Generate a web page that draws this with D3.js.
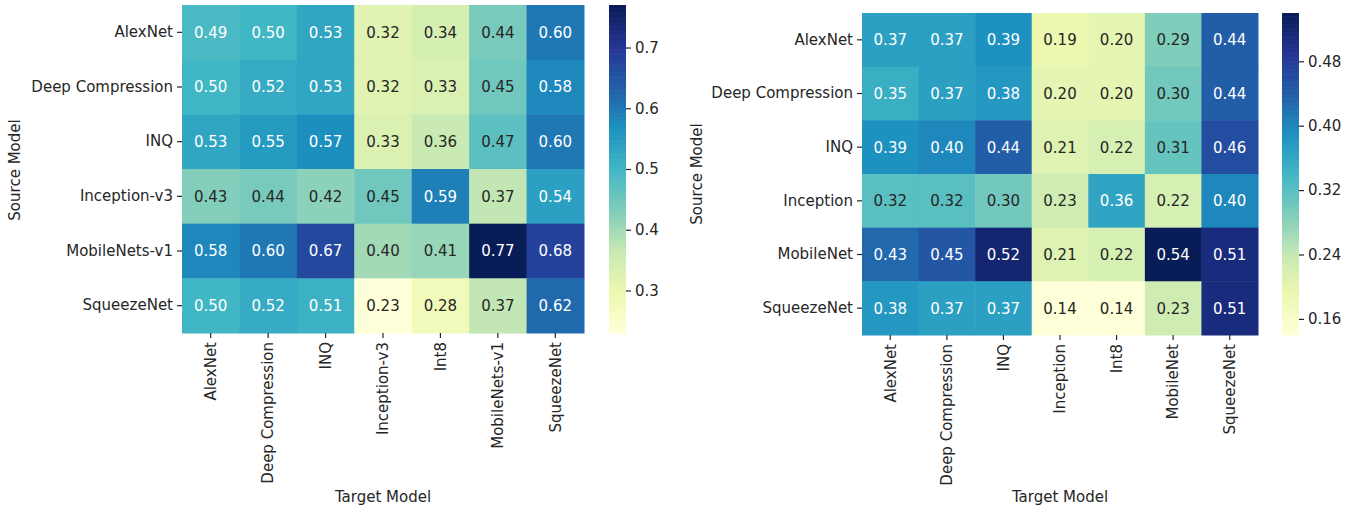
<!DOCTYPE html>
<html>
<head>
<meta charset="utf-8">
<script src="https://cdn.jsdelivr.net/npm/d3@7"></script>
<style>
  html, body { margin: 0; padding: 0; background: #fff; }
  svg { display: block; }
  text { font-family: "DejaVu Sans", sans-serif; }
</style>
</head>
<body>
<svg id="chart" width="1356" height="508"></svg>
<script>
// ---------- data ----------
const leftRows = ["AlexNet", "Deep Compression", "INQ", "Inception-v3", "MobileNets-v1", "SqueezeNet"];
const leftCols = ["AlexNet", "Deep Compression", "INQ", "Inception-v3", "Int8", "MobileNets-v1", "SqueezeNet"];
const leftValues = [
  [0.49, 0.50, 0.53, 0.32, 0.34, 0.44, 0.60],
  [0.50, 0.52, 0.53, 0.32, 0.33, 0.45, 0.58],
  [0.53, 0.55, 0.57, 0.33, 0.36, 0.47, 0.60],
  [0.43, 0.44, 0.42, 0.45, 0.59, 0.37, 0.54],
  [0.58, 0.60, 0.67, 0.40, 0.41, 0.77, 0.68],
  [0.50, 0.52, 0.51, 0.23, 0.28, 0.37, 0.62]
];
const leftTicks = [0.3, 0.4, 0.5, 0.6, 0.7];
const leftTickLabels = ["0.3", "0.4", "0.5", "0.6", "0.7"];

const rightRows = ["AlexNet", "Deep Compression", "INQ", "Inception", "MobileNet", "SqueezeNet"];
const rightCols = ["AlexNet", "Deep Compression", "INQ", "Inception", "Int8", "MobileNet", "SqueezeNet"];
const rightValues = [
  [0.37, 0.37, 0.39, 0.19, 0.20, 0.29, 0.44],
  [0.35, 0.37, 0.38, 0.20, 0.20, 0.30, 0.44],
  [0.39, 0.40, 0.44, 0.21, 0.22, 0.31, 0.46],
  [0.32, 0.32, 0.30, 0.23, 0.364, 0.22, 0.40],
  [0.43, 0.45, 0.52, 0.21, 0.22, 0.54, 0.51],
  [0.38, 0.37, 0.37, 0.14, 0.14, 0.23, 0.51]
];
const rightTicks = [0.16, 0.24, 0.32, 0.40, 0.48];
const rightTickLabels = ["0.16", "0.24", "0.32", "0.40", "0.48"];

const xTitle = "Target Model";
const yTitle = "Source Model";

// YlGnBu (matplotlib / ColorBrewer 9-class anchors)
const ylgnbu = ["#ffffd9", "#edf8b1", "#c7e9b4", "#7fcdbb", "#41b6c4", "#1d91c0", "#225ea8", "#253494", "#081d58"];

// ---------- drawing ----------
const svg = d3.select("#chart");
const textDark = "#262626";
const fs = 15;

function luminance(c) {
  const rgb = d3.rgb(c);
  const f = v => { v /= 255; return v <= 0.03928 ? v / 12.92 : Math.pow((v + 0.055) / 1.055, 2.4); };
  return 0.2126 * f(rgb.r) + 0.7152 * f(rgb.g) + 0.0722 * f(rgb.b);
}

function drawHeatmap(cfg) {
  const { rows, cols, values, ticks, tickLabels, box, cbar, yTitleX, xTitleY, yTitleY } = cfg;
  const flat = values.flat();
  const ext = d3.extent(flat);
  const t = d3.scaleLinear().domain(ext).range([0, 1]);
  const cs = d3.scaleLinear()
    .domain(ylgnbu.map((_, i) => i / (ylgnbu.length - 1)))
    .range(ylgnbu)
    .interpolate(d3.interpolateRgb);
  const color = v => cs(Math.max(0, Math.min(1, t(v))));

  const x = d3.scaleBand().domain(cols).range([box.x0, box.x1]).padding(0);
  const y = d3.scaleBand().domain(rows).range([box.y0, box.y1]).padding(0);

  const g = svg.append("g");
  const cells = [];
  values.forEach((row, i) => row.forEach((v, j) => cells.push({ r: rows[i], c: cols[j], v })));

  g.selectAll("rect.cell").data(cells).join("rect")
    .attr("class", "cell")
    .attr("x", d => x(d.c))
    .attr("y", d => y(d.r))
    .attr("width", x.bandwidth() + 0.5)
    .attr("height", y.bandwidth() + 0.5)
    .attr("fill", d => color(d.v));

  g.selectAll("text.annot").data(cells).join("text")
    .attr("class", "annot")
    .attr("x", d => x(d.c) + x.bandwidth() / 2)
    .attr("y", d => y(d.r) + y.bandwidth() / 2)
    .attr("text-anchor", "middle")
    .attr("dy", "0.36em")
    .attr("font-size", fs)
    .attr("fill", d => luminance(color(d.v)) > 0.408 ? textDark : "#ffffff")
    .text(d => d3.format(".2f")(d.v));

  // y axis (left)
  const yAxis = d3.axisLeft(y).tickSize(5).tickPadding(4);
  const ya = g.append("g").attr("transform", `translate(${box.x0},0)`).call(yAxis);
  ya.select(".domain").remove();
  ya.selectAll("line").attr("stroke", textDark).attr("stroke-width", 1.2);
  ya.selectAll("text").attr("font-size", fs).attr("fill", textDark).attr("font-family", "DejaVu Sans");

  // x axis (bottom), rotated labels
  const xAxis = d3.axisBottom(x).tickSize(5).tickPadding(4);
  const xa = g.append("g").attr("transform", `translate(0,${box.y1})`).call(xAxis);
  xa.select(".domain").remove();
  xa.selectAll("line").attr("stroke", textDark).attr("stroke-width", 1.2);
  xa.selectAll("text")
    .attr("font-size", fs).attr("fill", textDark).attr("font-family", "DejaVu Sans")
    .attr("transform", "rotate(-90)")
    .attr("text-anchor", "end")
    .attr("x", -9)
    .attr("y", 0)
    .attr("dy", "0.35em");

  // axis titles
  g.append("text")
    .attr("x", (box.x0 + box.x1) / 2).attr("y", xTitleY)
    .attr("text-anchor", "middle").attr("font-size", fs).attr("fill", textDark)
    .text(xTitle);
  g.append("text")
    .attr("transform", `translate(${yTitleX},${yTitleY}) rotate(-90)`)
    .attr("text-anchor", "middle").attr("font-size", fs).attr("fill", textDark)
    .text(yTitle);

  // colorbar
  const cy = d3.scaleLinear().domain(ext).range([cbar.y1, cbar.y0]);
  const steps = d3.range(0, 200);
  const stepH = (cbar.y1 - cbar.y0) / steps.length;
  g.selectAll("rect.cb").data(steps).join("rect")
    .attr("class", "cb")
    .attr("x", cbar.x0)
    .attr("y", d => cbar.y1 - (d + 1) * stepH)
    .attr("width", cbar.x1 - cbar.x0)
    .attr("height", stepH + 0.6)
    .attr("fill", d => color(cy.invert(cbar.y1 - (d + 0.5) * stepH)));

  const cAxis = d3.axisRight(cy).tickValues(ticks).tickFormat((d, i) => tickLabels[i]).tickSize(5).tickPadding(4);
  const ca = g.append("g").attr("transform", `translate(${cbar.x1},0)`).call(cAxis);
  ca.select(".domain").remove();
  ca.selectAll("line").attr("stroke", textDark).attr("stroke-width", 1.2);
  ca.selectAll("text").attr("font-size", fs).attr("fill", textDark).attr("font-family", "DejaVu Sans");
}

drawHeatmap({
  rows: leftRows, cols: leftCols, values: leftValues,
  ticks: leftTicks, tickLabels: leftTickLabels,
  box: { x0: 182, x1: 584, y0: 5, y1: 333 },
  cbar: { x0: 609, x1: 626, y0: 5, y1: 333 },
  yTitleX: 20, yTitleY: 170, xTitleY: 502
});

drawHeatmap({
  rows: rightRows, cols: rightCols, values: rightValues,
  ticks: rightTicks, tickLabels: rightTickLabels,
  box: { x0: 862, x1: 1258, y0: 13, y1: 335 },
  cbar: { x0: 1282, x1: 1299, y0: 13, y1: 335 },
  yTitleX: 702, yTitleY: 174, xTitleY: 502
});
</script>
</body>
</html>
